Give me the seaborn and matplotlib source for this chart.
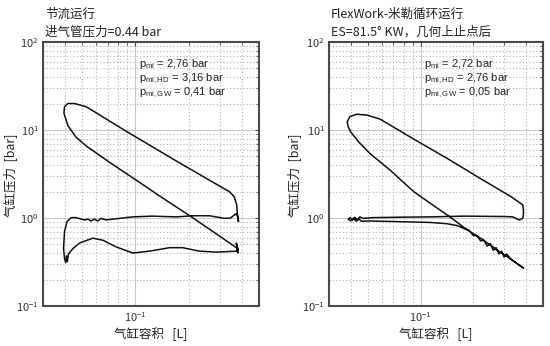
import matplotlib
matplotlib.use("Agg")
import matplotlib.pyplot as plt
import matplotlib.ticker as mticker
import seaborn as sns
import numpy as np

# ---------------- data ----------------
# Left panel: throttled operation, one closed cycle starting at BDC
left_V = [0.378, 0.30, 0.212, 0.134, 0.110, 0.0713, 0.0526, 0.0461, 0.0415, 0.0394,
          0.0397, 0.0415, 0.0452, 0.0526, 0.0885, 0.170, 0.340, 0.362, 0.374, 0.378,
          0.383, 0.380, 0.372, 0.362, 0.345, 0.320, 0.262, 0.211, 0.170, 0.125,
          0.0965, 0.0812, 0.0682, 0.0639, 0.0612, 0.0586, 0.0561, 0.0538, 0.0515, 0.0461,
          0.0433, 0.0410, 0.0397, 0.0392, 0.0397, 0.0403, 0.0408, 0.0412, 0.0418, 0.0443,
          0.0483, 0.0574, 0.0653, 0.0777, 0.0965, 0.120, 0.156, 0.185, 0.230, 0.285,
          0.378, 0.372, 0.380, 0.374, 0.381, 0.376, 0.378]
left_p = [0.45, 0.62, 1.00, 1.83, 2.40, 4.30, 6.60, 8.30, 11.2, 15.5,
          18.4, 20.0, 20.0, 18.4, 9.70, 4.45, 1.99, 1.75, 1.41, 1.08,
          0.91, 1.02, 1.12, 1.08, 1.00, 0.99, 1.06, 1.06, 1.03, 1.05,
          1.03, 0.99, 0.95, 0.99, 0.925, 0.97, 0.925, 0.97, 0.95, 1.01,
          1.01, 0.91, 0.70, 0.45, 0.35, 0.31, 0.37, 0.32, 0.39, 0.45,
          0.52, 0.59, 0.56, 0.47, 0.40, 0.42, 0.46, 0.46, 0.42, 0.41,
          0.42, 0.52, 0.40, 0.50, 0.41, 0.48, 0.45]

# Right panel: FlexWork Miller-cycle operation, starting at BDC
right_V = [0.387, 0.358, 0.328, 0.310, 0.300, 0.290, 0.280, 0.270, 0.260, 0.250,
           0.240, 0.230, 0.220, 0.210, 0.200, 0.190, 0.180, 0.148, 0.0974, 0.0912,
           0.067, 0.0514, 0.0441, 0.0398, 0.0386, 0.0381, 0.0395, 0.0431, 0.0492, 0.0587,
           0.0912, 0.142, 0.220, 0.328, 0.383, 0.387, 0.386, 0.383, 0.366, 0.335,
           0.300, 0.177, 0.114, 0.0732, 0.0537, 0.047, 0.045, 0.0435, 0.042, 0.0408,
           0.0397, 0.0386, 0.040, 0.0415, 0.043, 0.0445, 0.046, 0.0514, 0.0732, 0.114,
           0.142, 0.162, 0.185, 0.220, 0.275, 0.328, 0.387]
right_p = [0.27, 0.30, 0.34, 0.39, 0.36, 0.42, 0.39, 0.46, 0.43, 0.51,
           0.48, 0.56, 0.55, 0.63, 0.63, 0.72, 0.76, 1.02, 1.82, 2.00,
           3.50, 5.40, 7.40, 9.60, 10.9, 12.4, 14.2, 15.1, 14.8, 13.3,
           7.90, 4.75, 2.80, 1.75, 1.41, 1.23, 1.05, 0.99, 0.95, 1.03,
           1.04, 1.05, 1.03, 1.02, 1.01, 0.99, 1.03, 0.95, 1.02, 0.94,
           1.01, 0.97, 0.93, 0.99, 0.92, 0.97, 0.92, 0.925, 0.91, 0.89,
           0.86, 0.82, 0.73, 0.59, 0.43, 0.34, 0.27]

titles = [("节流运行", "进气管压力=0.44 bar"),
          ("FlexWork-米勒循环运行", "ES=81.5° KW，几何上止点后")]
pmi_labels = [["2,76", "3,16", "0,41"], ["2,72", "2,76", "0,05"]]
ylabel_text = "气缸压力  [bar]"
xlabel_text = "气缸容积   [L]"

# ---------------- style ----------------
sns.set_style("white")
plt.rcParams['font.family'] = ['Noto Sans CJK SC', 'DejaVu Sans']
plt.rcParams['mathtext.fontset'] = 'custom'
plt.rcParams['mathtext.rm'] = 'Liberation Sans'
plt.rcParams['mathtext.it'] = 'Liberation Sans'

W, H = 550, 346
fig = plt.figure(figsize=(W / 100, H / 100), dpi=100)
fig.patch.set_facecolor("white")

boxes = [(43, 42, 259, 306), (329, 42, 543, 306)]
datasets = [(left_V, left_p), (right_V, right_p)]
frame_col = "#4a4a4a"
subs = ["mi", "mi,HD", "mi,GW"]
ys = [0.915, 0.862, 0.809]

for i, ((x0, y0, x1, y1), (V, p)) in enumerate(zip(boxes, datasets)):
    ax = fig.add_axes([x0 / W, 1 - y1 / H, (x1 - x0) / W, (y1 - y0) / H])
    ax.set_xscale("log")
    ax.set_yscale("log")
    sns.lineplot(x=V, y=p, sort=False, estimator=None, ax=ax,
                 color="#111111", lw=1.1)
    ax.set_xlim(0.03, 0.5)
    ax.set_ylim(0.1, 100)
    ax.xaxis.set_major_locator(mticker.LogLocator(base=10, numticks=10))
    ax.xaxis.set_minor_locator(mticker.LogLocator(base=10, subs=np.arange(2, 10), numticks=20))
    ax.yaxis.set_minor_locator(mticker.LogLocator(base=10, subs=np.arange(2, 10), numticks=20))
    ax.xaxis.set_minor_formatter(mticker.NullFormatter())
    ax.yaxis.set_minor_formatter(mticker.NullFormatter())
    ax.grid(which="major", color="#c9c9c9", ls="-", lw=0.8)
    ax.grid(which="minor", color="#b5b5b5", ls=(0, (1, 2)), lw=0.8)
    ax.set_axisbelow(True)
    for s in ax.spines.values():
        s.set_color(frame_col)
        s.set_linewidth(1.5)
    ax.tick_params(which="both", direction="in", colors=frame_col,
                   labelcolor="#333333", labelsize=8, top=True, right=True)
    ax.tick_params(which="major", length=3, pad=3)
    ax.tick_params(which="minor", length=2)
    ax.set_xlabel("")
    ax.set_ylabel("")
    for k in range(3):
        ax.text(0.445, ys[k], r"p$_{\mathrm{%s}}$ = %s bar" % (subs[k], pmi_labels[i][k]),
                transform=ax.transAxes, fontsize=8, family="Liberation Sans",
                va="center", color="#222222")

    # titles
    fig.text((x0 + 2) / W, 1 - 14 / H, titles[i][0], fontsize=9, va="center",
             ha="left", color="#222222")
    fig.text((x0 + 2) / W, 1 - 32 / H, titles[i][1], fontsize=9, va="center",
             ha="left", color="#222222")
    # axis labels
    ylx = 10 if i == 0 else 294
    fig.text(ylx / W, 1 - 175 / H, ylabel_text, rotation=90, fontsize=9,
             ha="center", va="center", color="#222222")
    fig.text(((x0 + x1) / 2) / W, 1 - 334 / H, xlabel_text, fontsize=9,
             ha="center", va="center", color="#222222")

fig.savefig("out.png", dpi=100, facecolor="white")
